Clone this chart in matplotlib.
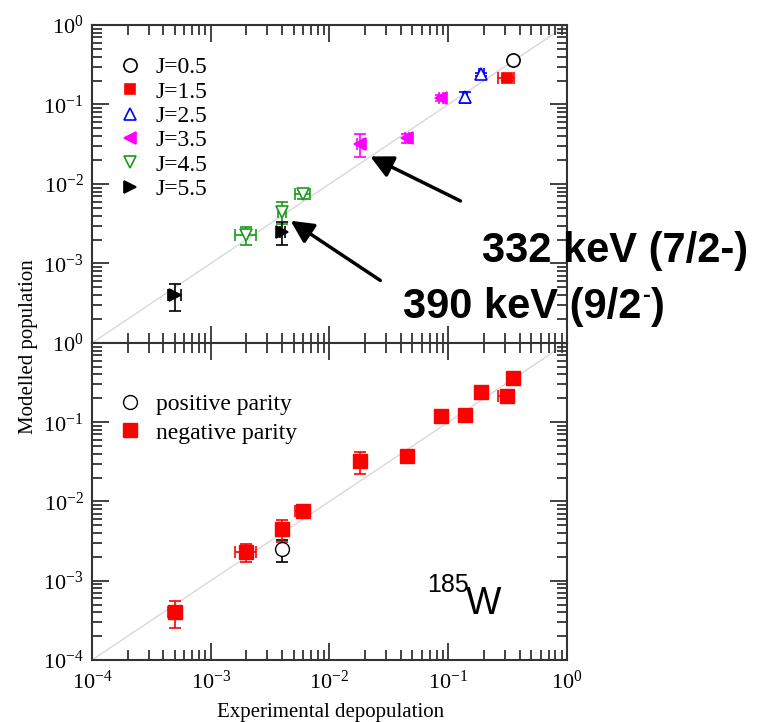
import matplotlib
matplotlib.use('Agg')
import matplotlib.pyplot as plt
from matplotlib.ticker import LogLocator, NullFormatter, FixedLocator
import numpy as np

plt.rcParams['font.family'] = ['Liberation Serif', 'DejaVu Serif']
plt.rcParams['mathtext.fontset'] = 'custom'
plt.rcParams['mathtext.rm'] = 'Liberation Serif'
plt.rcParams['axes.unicode_minus'] = False

# levels: experimental depopulation vs modelled population
x_exp = [5e-4, 2e-3, 4e-3, 4e-3, 6e-3, 1.8e-2, 4.5e-2, 8.7e-2, 0.138, 0.19, 0.31, 0.35]
x_err = [0.6e-4, 0.4e-3, 0.3e-3, 0.2e-3, 0.9e-3, 0.1e-2, 0.2e-2, 0.3e-2, 0.005, 0.01, 0.05, 0.005]
y_mod = [4e-4, 2.3e-3, 4.5e-3, 2.5e-3, 7.5e-3, 3.2e-2, 3.8e-2, 0.12, 0.123, 0.24, 0.215, 0.36]
y_err = [1.5e-4, 0.6e-3, 1.4e-3, 0.8e-3, 1.0e-3, 1.0e-2, 0.5e-2, 0.01, 0.02, 0.01, 0.015, 0.01]
spin = [5.5, 4.5, 4.5, 5.5, 4.5, 3.5, 3.5, 3.5, 2.5, 2.5, 1.5, 0.5]
parity = ['-', '-', '-', '+', '-', '-', '-', '-', '-', '-', '-', '-']

spins = [0.5, 1.5, 2.5, 3.5, 4.5, 5.5]
spin_markers = ['o', 's', '^', '<', 'v', '>']
spin_colors = ['black', 'red', 'blue', 'magenta', '#1a9a1a', 'black']
spin_filled = [False, True, False, True, False, True]
spin_sizes = [9.5, 7.5, 8.5, 8.5, 8.5, 8.5]

x_exp = np.array(x_exp); x_err = np.array(x_err)
y_mod = np.array(y_mod); y_err = np.array(y_err)
spin = np.array(spin); parity = np.array(parity)

fig = plt.figure(figsize=(7.57, 7.22), dpi=100)
ax1 = fig.add_axes([0.1215, 0.525, 0.6275, 0.4404])
ax2 = fig.add_axes([0.1215, 0.0859, 0.6275, 0.4391])

for ax in (ax1, ax2):
    ax.set_xscale('log')
    ax.set_yscale('log')
    ax.set_xlim(1e-4, 1)
    ax.set_ylim(1e-4, 1)
    ax.plot([1e-4, 1], [1e-4, 1], color='#d8d8d8', lw=1, zorder=0)
    ax.tick_params(which='both', direction='in', top=True, right=True,
                   labelsize=16, width=1.3, color='#333333')
    ax.tick_params(which='major', length=12)
    ax.tick_params(which='minor', length=7)
    ax.tick_params(axis='x', pad=8)
    ax.tick_params(axis='y', pad=6)
    ax.xaxis.set_minor_locator(LogLocator(base=10, subs=np.arange(2, 10)))
    ax.yaxis.set_minor_locator(LogLocator(base=10, subs=np.arange(2, 10)))
    ax.xaxis.set_minor_formatter(NullFormatter())
    ax.yaxis.set_minor_formatter(NullFormatter())
    for s in ax.spines.values():
        s.set_linewidth(1.5)
        s.set_color('#333333')

# top panel: by spin
handles = []
for j, m, c, f, ms in zip(spins, spin_markers, spin_colors, spin_filled, spin_sizes):
    sel = spin == j
    ax1.errorbar(x_exp[sel], y_mod[sel], xerr=x_err[sel], yerr=y_err[sel],
                 fmt='none', ecolor=c, elinewidth=1.2, capsize=4, capthick=1.2, zorder=2)
    h, = ax1.plot(x_exp[sel], y_mod[sel], ls='none', marker=m, ms=ms,
                  mfc=c if f else 'white', mec=c, mew=1.2, label='J=%.1f' % j, zorder=3)
    handles.append(h)
ax1.legend(handles=handles, loc='upper left', bbox_to_anchor=(0.04, 0.93),
           frameon=False, fontsize=17, handlelength=0.8, handletextpad=0.7,
           labelspacing=0.12, borderaxespad=0)
ax1.yaxis.set_major_locator(FixedLocator([1e-3, 1e-2, 1e-1, 1e0]))
ax1.tick_params(labelbottom=False)

# bottom panel: by parity
neg = parity == '-'
pos = parity == '+'
ax2.errorbar(x_exp[pos], y_mod[pos], xerr=x_err[pos], yerr=y_err[pos],
             fmt='none', ecolor='black', elinewidth=1.2, capsize=4, capthick=1.2, zorder=2)
hp, = ax2.plot(x_exp[pos], y_mod[pos], ls='none', marker='o', ms=10,
               mfc='white', mec='black', mew=1.0, label='positive parity', zorder=3)
ax2.errorbar(x_exp[neg], y_mod[neg], xerr=x_err[neg], yerr=y_err[neg],
             fmt='none', ecolor='red', elinewidth=1.2, capsize=4, capthick=1.2, zorder=2)
hn, = ax2.plot(x_exp[neg], y_mod[neg], ls='none', marker='s', ms=9.5,
               mfc='red', mec='red', label='negative parity', zorder=3)
ax2.legend(handles=[hp, hn], loc='upper left', bbox_to_anchor=(0.04, 0.87),
           frameon=False, fontsize=17, handlelength=0.8, handletextpad=0.7,
           labelspacing=0.3, borderaxespad=0)
ax2.yaxis.set_major_locator(FixedLocator([1e-4, 1e-3, 1e-2, 1e-1, 1e0]))

fig.text(0.037, 0.52, 'Modelled population', rotation=90, fontsize=15,
         ha='center', va='center')
fig.text(0.437, 1 - 717 / 722, 'Experimental depopulation', fontsize=15,
         ha='center', va='baseline')

# annotations
bold = dict(family=['Liberation Sans', 'DejaVu Sans'], weight='bold')
arrow = dict(arrowstyle='-|>', color='black', lw=2.5, mutation_scale=34)
ax1.annotate('', xy=(2.1e-2, 2.3e-2), xytext=(0.133, 5.9e-3),
             arrowprops=arrow, annotation_clip=False)
ax1.annotate('', xy=(4.5e-3, 3.6e-3), xytext=(0.028, 5.85e-4),
             arrowprops=arrow, annotation_clip=False)
fig.text(482 / 757, 1 - 262 / 722, '332 keV (7/2-)', ha='left', va='baseline',
         fontsize=30, **bold)

t1 = fig.text(403 / 757, 1 - 318 / 722, '390 keV (9/2', ha='left', va='baseline',
              fontsize=30, **bold)
fig.canvas.draw()
r = fig.canvas.get_renderer()
x_end = t1.get_window_extent(r).x1
t2 = fig.text(x_end / 757 + 0.001, 1 - 302 / 722, '-', ha='left', va='baseline',
              fontsize=17, **bold)
x_end2 = t2.get_window_extent(r).x1
fig.text(x_end2 / 757 + 0.001, 1 - 318 / 722, ')', ha='left', va='baseline',
         fontsize=30, **bold)

fig.text(427 / 757, 1 - 592 / 722, '185', family='Liberation Sans', fontsize=18,
         ha='left', va='baseline')
fig.text(466 / 757, 1 - 614 / 722, 'W', family='Liberation Sans', fontsize=27,
         ha='left', va='baseline')

fig.savefig('out.png', dpi=100)
